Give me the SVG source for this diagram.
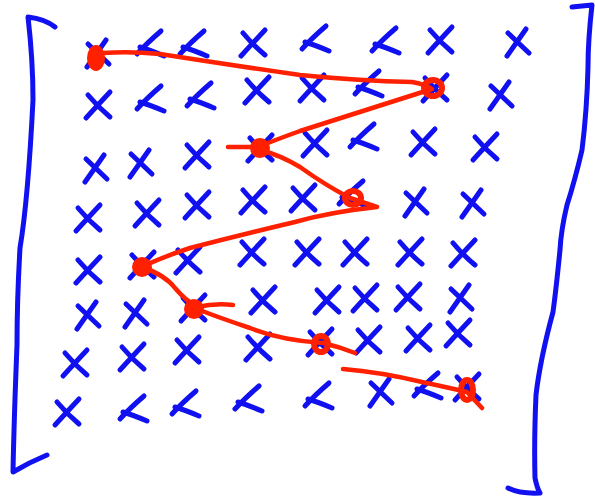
<svg xmlns="http://www.w3.org/2000/svg" xmlns:xlink="http://www.w3.org/1999/xlink" width="595" height="500" viewBox="0 0 595 500">
<style>
.b{fill:none;stroke:#1010f0;stroke-width:5;stroke-linecap:round;stroke-linejoin:round}
.r{fill:none;stroke:#ff2000;stroke-width:4.5;stroke-linecap:round;stroke-linejoin:round}
.rf{fill:#ff2000;stroke:#ff2000;stroke-width:4}
.ro{fill:none;stroke:#ff2000;stroke-width:6}
</style>
<defs>
<path id="x1" class="b" d="M-12,13 Q-2,2 12,-13 M-10,-10 Q0,2 12,12"/>
<path id="x2" class="b" d="M-13,9 Q-3,-2 11,-14 M-10,2 Q0,5 14,11"/>
<path id="x3" class="b" d="M-10,14 L9,-13 M-9,-9 L12,11"/>
</defs>
<rect width="595" height="500" fill="#fff"/>
<g id="brackets">
<path class="b" d="M55,27 Q45,19 28,17 Q33,60 33,100 Q28,200 20,248 Q17,300 17,345 Q14,420 13,472 Q30,462 47,455"/>
<path class="b" d="M572,7 L592,5 Q588,40 588,67 Q587,110 582,150 Q575,180 567,205 Q561,230 560,250 Q556,290 553,312 Q540,360 536,395 Q534,440 535,478 Q537,488 540,493 Q520,494 508,488"/>
</g>
<g id="grid">
<use xlink:href="#x3" x="97" y="53"/><use xlink:href="#x2" x="150" y="45"/><use xlink:href="#x2" x="193" y="45"/><use xlink:href="#x1" x="253" y="43"/><use xlink:href="#x2" x="315" y="40"/><use xlink:href="#x2" x="385" y="42"/><use xlink:href="#x1" x="440" y="40"/><use xlink:href="#x3" x="517" y="42"/>
<use xlink:href="#x1" x="98" y="105"/><use xlink:href="#x2" x="150" y="100"/><use xlink:href="#x2" x="200" y="97"/><use xlink:href="#x1" x="257" y="90"/><use xlink:href="#x1" x="312" y="88"/><use xlink:href="#x2" x="368" y="85"/><use xlink:href="#x1" x="435" y="88"/><use xlink:href="#x3" x="500" y="95"/>
<use xlink:href="#x3" x="95" y="168"/><use xlink:href="#x3" x="140" y="163"/><use xlink:href="#x1" x="197" y="155"/><use xlink:href="#x1" x="260" y="148"/><use xlink:href="#x1" x="315" y="143"/><use xlink:href="#x2" x="363" y="138"/><use xlink:href="#x1" x="423" y="142"/><use xlink:href="#x1" x="485" y="147"/>
<use xlink:href="#x1" x="88" y="218"/><use xlink:href="#x1" x="147" y="213"/><use xlink:href="#x1" x="197" y="205"/><use xlink:href="#x1" x="253" y="200"/><use xlink:href="#x1" x="303" y="198"/><use xlink:href="#x2" x="352" y="195"/><use xlink:href="#x3" x="415" y="202"/><use xlink:href="#x3" x="472" y="203"/>
<use xlink:href="#x1" x="88" y="270"/><use xlink:href="#x1" x="142" y="265"/><use xlink:href="#x1" x="188" y="260"/><use xlink:href="#x1" x="252" y="252"/><use xlink:href="#x1" x="307" y="252"/><use xlink:href="#x1" x="355" y="252"/><use xlink:href="#x1" x="410" y="252"/><use xlink:href="#x1" x="463" y="253"/>
<use xlink:href="#x3" x="87" y="315"/><use xlink:href="#x3" x="135" y="313"/><use xlink:href="#x1" x="193" y="308"/><use xlink:href="#x1" x="263" y="300"/><use xlink:href="#x1" x="327" y="300"/><use xlink:href="#x1" x="365" y="298"/><use xlink:href="#x1" x="408" y="297"/><use xlink:href="#x3" x="460" y="298"/>
<use xlink:href="#x1" x="75" y="363"/><use xlink:href="#x1" x="132" y="357"/><use xlink:href="#x1" x="187" y="350"/><use xlink:href="#x1" x="258" y="347"/><use xlink:href="#x1" x="320" y="342"/><use xlink:href="#x1" x="368" y="340"/><use xlink:href="#x1" x="418" y="338"/><use xlink:href="#x1" x="458" y="333"/>
<use xlink:href="#x1" x="67" y="412"/><use xlink:href="#x2" x="133" y="410"/><use xlink:href="#x2" x="185" y="405"/><use xlink:href="#x2" x="248" y="400"/><use xlink:href="#x2" x="318" y="397"/><use xlink:href="#x3" x="380" y="392"/><use xlink:href="#x2" x="427" y="387"/><use xlink:href="#x1" x="467" y="387"/>
</g>
<g id="path">
<path class="r" d="M103,53 Q130,51 160,54 Q230,65 300,75 Q360,81 412,82 Q425,84 432,89 Q360,112 300,131 Q275,140 258,147 L228,147 M260,150 Q280,155 300,167 Q325,185 350,198 L377,207 Q330,212 295,222 Q240,235 190,248 Q160,258 142,267 Q165,275 175,288 Q185,300 197,307 Q215,303 233,305 M197,309 Q220,318 250,328 Q280,340 323,343 Q340,347 355,353 M343,369 Q380,372 422,382 Q450,388 467,392 L482,408"/>
<ellipse class="rf" cx="96" cy="58" rx="7" ry="11"/>
<ellipse class="ro" cx="433" cy="88" rx="9" ry="8"/>
<circle class="rf" cx="260" cy="148" r="8"/>
<ellipse class="ro" cx="353" cy="198" rx="8" ry="7"/>
<circle class="rf" cx="142" cy="267" r="8"/>
<circle class="rf" cx="194" cy="309" r="8"/>
<ellipse class="ro" cx="321" cy="344" rx="7" ry="8"/>
<ellipse class="ro" cx="467" cy="390" rx="6" ry="10"/>
</g>
</svg>
